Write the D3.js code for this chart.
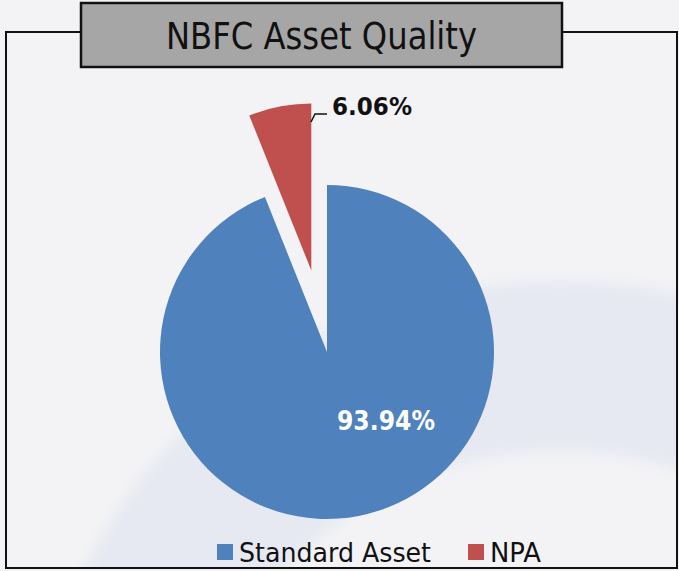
<!DOCTYPE html>
<html>
  <head>
    <meta charset="utf-8">
    <script src="https://d3js.org/d3.v7.min.js"></script>
    <title>NBFC Asset Quality</title>
    <style>
      body {
        margin: 0px;
        background: #f3f3f6;
      }
      text {
        font-family: 'DejaVu Sans', sans-serif;
      }
    </style>
  </head>
  <body>
    <svg width="679" height="571"></svg>
    <script>
      const categories = ['Standard Asset', 'NPA'];
      const shares = [93.94, 6.06];
      const labels = ['93.94%', '6.06%'];
      const colors = ['#4f81bd', '#c0504d'];

      const data = categories.map((c, i) => ({ name: c, value: shares[i], label: labels[i] }));

      const svg = d3.select('svg');
      const cx = 327, cy = 352, radius = 167, explode = 83;

      svg.append('rect')
          .attr('width', 679).attr('height', 571)
          .attr('fill', '#f3f3f6');

      // faint watermark band behind the pie
      const defs = svg.append('defs');
      defs.append('clipPath').attr('id', 'frame')
        .append('rect').attr('x', 6).attr('y', 32).attr('width', 671).attr('height', 536);
      defs.append('filter').attr('id', 'soft')
          .attr('x', '-20%').attr('y', '-20%').attr('width', '140%').attr('height', '140%')
        .append('feGaussianBlur').attr('stdDeviation', 7);
      svg.append('g')
          .attr('clip-path', 'url(#frame)')
        .append('ellipse')
          .attr('filter', 'url(#soft)')
          .attr('cx', 560).attr('cy', 766).attr('rx', 435).attr('ry', 400)
          .attr('fill', 'none')
          .attr('stroke', '#e6e9f1')
          .attr('stroke-width', 170);

      svg.append('rect')
          .attr('x', 6).attr('y', 32).attr('width', 671).attr('height', 536)
          .attr('fill', 'none').attr('stroke', '#111').attr('stroke-width', 2);

      svg.append('rect')
          .attr('x', 81).attr('y', 3).attr('width', 481).attr('height', 64)
          .attr('fill', '#a6a6a6').attr('stroke', '#111').attr('stroke-width', 2.5);
      svg.append('text')
          .attr('x', 166).attr('y', 49)
          .attr('font-size', 37)
          .attr('textLength', 311).attr('lengthAdjust', 'spacingAndGlyphs')
          .attr('fill', '#111')
          .text('NBFC Asset Quality');

      const pie = d3.pie().sort(null).value(d => d.value);
      const arc = d3.arc().innerRadius(0).outerRadius(radius);
      const arcs = pie(data);

      const pieG = svg.append('g')
          .attr('transform', `translate(${cx},${cy})`);

      pieG.selectAll('path').data(arcs)
        .enter().append('path')
          .attr('d', arc)
          .attr('fill', (d, i) => colors[i])
          .attr('transform', (d, i) => {
            if (i === 0) return null;
            const a = (d.startAngle + d.endAngle) / 2;
            return `translate(${Math.sin(a) * explode},${-Math.cos(a) * explode})`;
          });

      // data labels
      pieG.append('text')
          .attr('x', 10).attr('y', 78)
          .attr('font-size', 27).attr('font-weight', 'bold')
          .attr('textLength', 98).attr('lengthAdjust', 'spacingAndGlyphs')
          .attr('fill', '#fff')
          .text(labels[0]);

      pieG.append('path')
          .attr('d', 'M-16,-230L-12,-238L0,-238')
          .attr('fill', 'none').attr('stroke', '#111').attr('stroke-width', 1.5);
      pieG.append('text')
          .attr('x', 5).attr('y', -237)
          .attr('font-size', 25).attr('font-weight', 'bold')
          .attr('textLength', 80).attr('lengthAdjust', 'spacingAndGlyphs')
          .attr('fill', '#111')
          .text(labels[1]);

      // legend
      const legendX = [217, 468];
      const legendW = [192, 51];
      const legend = svg.append('g').selectAll('g').data(data)
        .enter().append('g')
          .attr('transform', (d, i) => `translate(${legendX[i]},544)`);
      legend.append('rect')
          .attr('width', 16).attr('height', 16)
          .attr('fill', (d, i) => colors[i]);
      legend.append('text')
          .attr('x', 22).attr('y', 18)
          .attr('font-size', 26)
          .attr('textLength', (d, i) => legendW[i]).attr('lengthAdjust', 'spacingAndGlyphs')
          .attr('fill', '#111')
          .text(d => d.name);
    </script>
  </body>
</html>
